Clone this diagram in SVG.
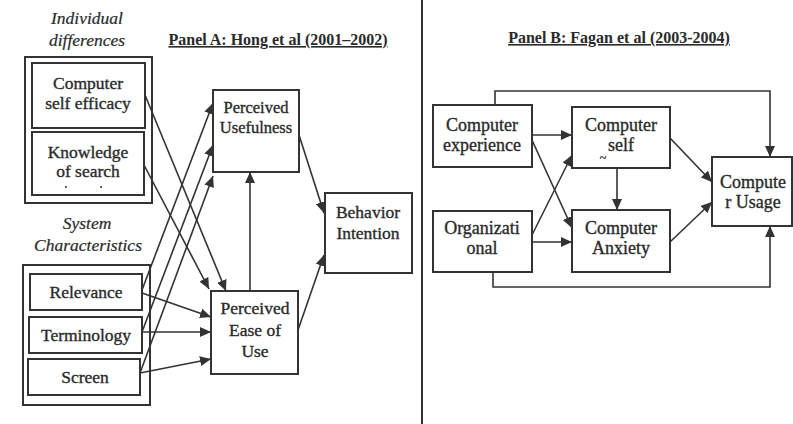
<svg xmlns="http://www.w3.org/2000/svg" width="793" height="424" viewBox="0 0 793 424" font-family="'Liberation Serif', 'Times New Roman', serif">
<style>
text{font-family:'Liberation Serif','Times New Roman',serif}
.box{fill:none;stroke:#333;stroke-width:2}
.t{font-size:17.5px;fill:#2a2a2a;stroke:#2a2a2a;stroke-width:0.35;text-anchor:middle;dominant-baseline:central}
.pu{font-size:16.5px}
.tb{font-size:18px}
.it{font-style:italic;stroke-width:0.2}
.title{font-size:16px;font-weight:bold;fill:#2a2a2a;text-anchor:middle;text-decoration:underline}
.c{fill:none;stroke:#333;stroke-width:1.6;marker-end:url(#ah)}
</style>
<defs>
<marker id="ah" markerUnits="userSpaceOnUse" markerWidth="12" markerHeight="10" refX="11" refY="5" orient="auto">
<path d="M0,0 L11,5 L0,10 Z" fill="#333"/>
</marker>
</defs>
<rect width="793" height="424" fill="#fff"/>
<line x1="422" y1="0" x2="422" y2="424" stroke="#333" stroke-width="2"/>
<text class="title" x="278" y="45">Panel A: Hong et al (2001–2002)</text>
<text class="title" x="619" y="43">Panel B: Fagan et al (2003-2004)</text>
<text class="t it" x="87" y="18">Individual</text>
<text class="t it" x="87" y="40">differences</text>
<text class="t it" x="87" y="223">System</text>
<text class="t it" x="88" y="245">Characteristics</text>
<g id="group-individual"><rect class="box" x="25" y="57" width="127" height="146"/></g>
<g id="group-system"><rect class="box" x="23" y="265" width="127" height="140"/></g>
<g id="cse"><rect class="box" x="32" y="63" width="113" height="65"/><text class="t" x="88" y="83">Computer</text><text class="t" x="88" y="103">self efficacy</text></g>
<g id="knowledge"><rect class="box" x="32" y="132" width="112" height="63"/><text class="t" x="88" y="152">Knowledge</text><text class="t" x="88" y="171">of search</text><circle cx="66" cy="187" r="1" fill="#333"/><circle cx="101" cy="187" r="1" fill="#333"/></g>
<g id="relevance"><rect class="box" x="30" y="274" width="112" height="36"/><text class="t" x="86" y="292">Relevance</text></g>
<g id="terminology"><rect class="box" x="29" y="317" width="113" height="36"/><text class="t" x="86" y="335">Terminology</text></g>
<g id="screen"><rect class="box" x="28" y="359" width="112" height="36"/><text class="t" x="85" y="377">Screen</text></g>
<g id="pu"><rect class="box" x="213" y="90" width="86" height="82"/><text class="t pu" x="256" y="107">Perceived</text><text class="t pu" x="256" y="127">Usefulness</text></g>
<g id="peou"><rect class="box" x="211" y="291" width="87" height="83"/><text class="t" x="255" y="308">Perceived</text><text class="t" x="255" y="330">Ease of</text><text class="t" x="255" y="351">Use</text></g>
<g id="bi"><rect class="box" x="325" y="193" width="87" height="80"/><text class="t" x="368" y="212">Behavior</text><text class="t" x="368" y="233">Intention</text></g>
<g id="exp"><rect class="box" x="433" y="105" width="99" height="62"/><text class="t tb" x="482" y="125">Computer</text><text class="t tb" x="482" y="145">experience</text></g>
<g id="self"><rect class="box" x="572" y="107" width="98" height="61"/><text class="t tb" x="621" y="125">Computer</text><text class="t tb" x="621" y="145">self</text><text class="t" x="603" y="158" style="font-size:12px">~</text></g>
<g id="org"><rect class="box" x="433" y="211" width="99" height="61"/><text class="t tb" x="482" y="228">Organizati</text><text class="t tb" x="482" y="248">onal</text></g>
<g id="anx"><rect class="box" x="572" y="210" width="98" height="62"/><text class="t tb" x="621" y="228">Computer</text><text class="t tb" x="621" y="248">Anxiety</text></g>
<g id="usage"><rect class="box" x="712" y="157" width="80" height="69"/><text class="t tb" x="753" y="182">Compute</text><text class="t tb" x="753" y="202">r Usage</text></g>
<g id="connectors">
<line class="c" x1="145" y1="95" x2="226" y2="291"/>
<line class="c" x1="144" y1="165" x2="209" y2="289"/>
<line class="c" x1="142" y1="290" x2="213" y2="103"/>
<line class="c" x1="142" y1="332" x2="213" y2="145"/>
<line class="c" x1="140" y1="373" x2="213" y2="176"/>
<line class="c" x1="142" y1="293" x2="211" y2="317"/>
<line class="c" x1="142" y1="332" x2="211" y2="332"/>
<line class="c" x1="140" y1="373" x2="211" y2="359"/>
<line class="c" x1="250" y1="291" x2="250" y2="172"/>
<line class="c" x1="299" y1="135" x2="324" y2="213"/>
<line class="c" x1="298" y1="330" x2="324" y2="255"/>
<line class="c" x1="532" y1="135" x2="572" y2="135"/>
<line class="c" x1="532" y1="140" x2="572" y2="228"/>
<line class="c" x1="532" y1="235" x2="572" y2="155"/>
<line class="c" x1="532" y1="242" x2="572" y2="242"/>
<line class="c" x1="617" y1="168" x2="617" y2="210"/>
<line class="c" x1="670" y1="138" x2="712" y2="182"/>
<line class="c" x1="670" y1="242" x2="712" y2="202"/>
<path class="c" d="M495,105 V91 H770 V157"/>
<path class="c" d="M493,272 V287 H770 V226"/>
</g>
</svg>
